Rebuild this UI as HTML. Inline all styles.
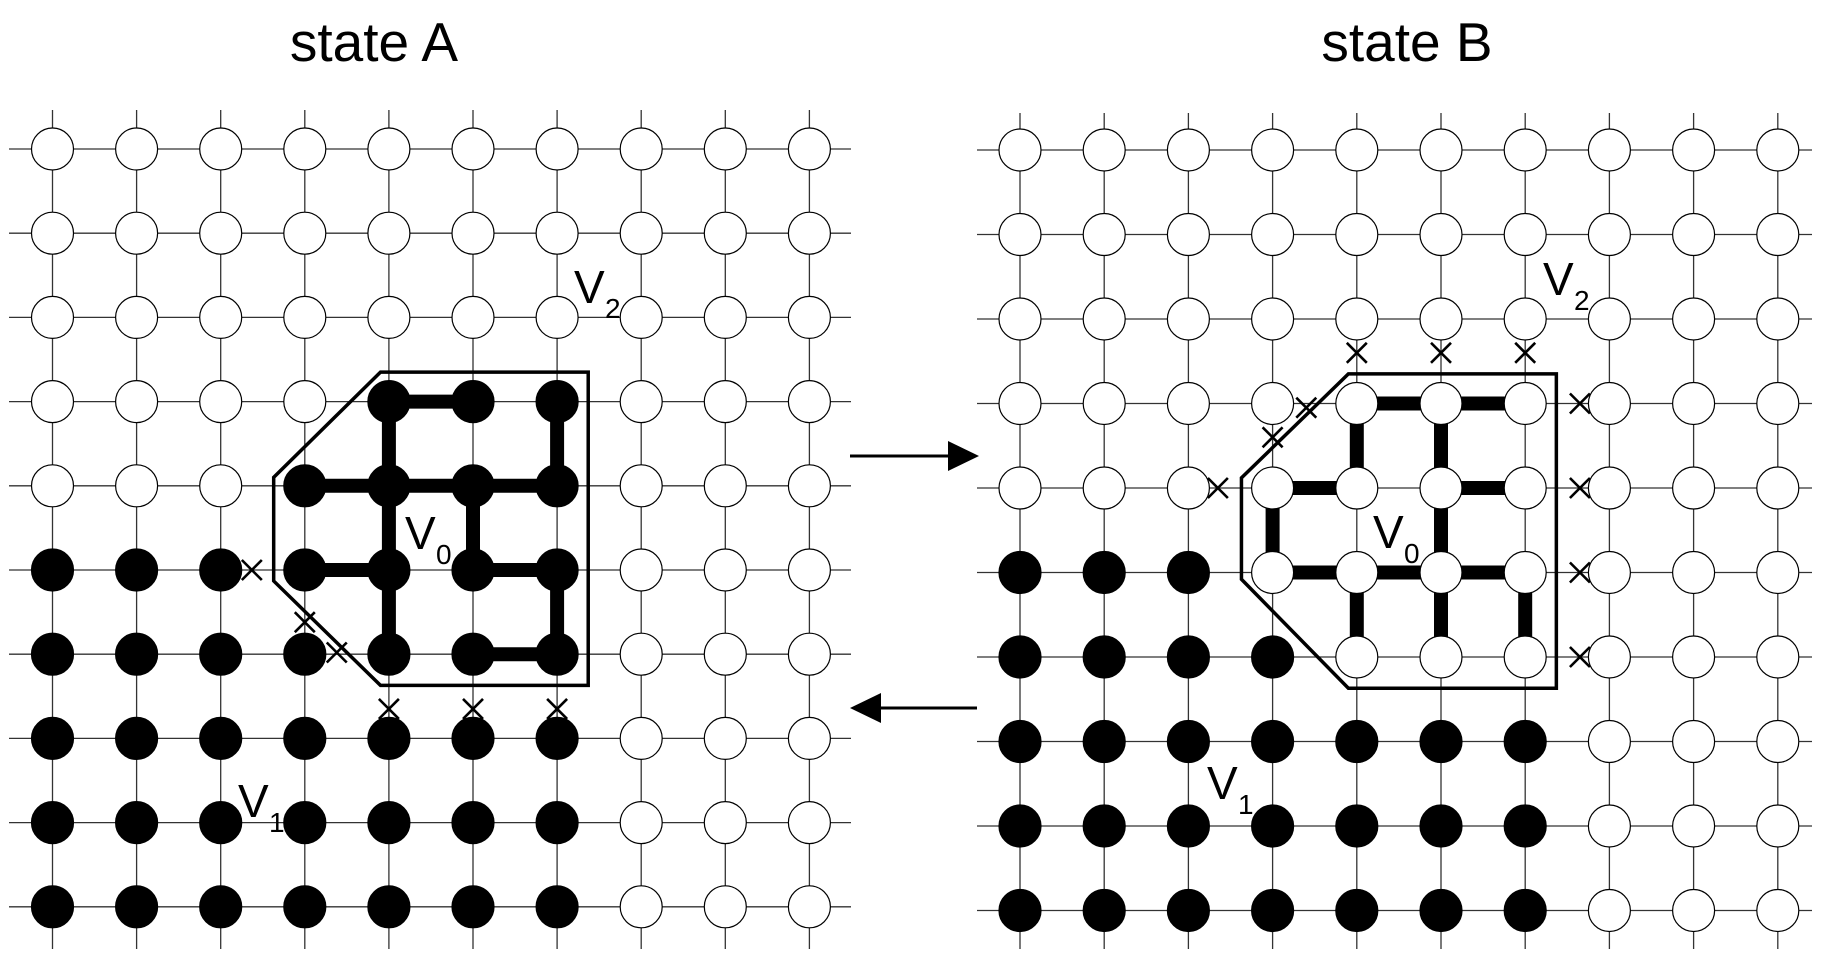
<!DOCTYPE html>
<html><head><meta charset="utf-8"><style>
html,body{margin:0;padding:0;background:#fff;}
svg{display:block;font-family:"Liberation Sans",Arial,sans-serif;}
</style></head><body>
<svg id="chart" width="1832" height="960" viewBox="0 0 1832 960" xmlns="http://www.w3.org/2000/svg">
<g id="panelA"></g>
<g id="panelB"></g>
<g>
<line x1="850" y1="456" x2="950" y2="456" stroke="#000" stroke-width="3"/>
<polygon points="979,456 948,441 948,471" fill="#000"/>
<line x1="977" y1="708" x2="880" y2="708" stroke="#000" stroke-width="3"/>
<polygon points="850,708 881,693 881,723" fill="#000"/>
</g>
</svg>
<script>
// Data: node states (1=filled) per row, thick edges [r1,c1,r2,c2], crosses
const filledA = [
 "0000000000","0000000000","0000000000","0000111000","0001111000",
 "1111111000","1111111000","1111111000","1111111000","1111111000"];
const filledB = [
 "0000000000","0000000000","0000000000","0000000000","0000000000",
 "1110000000","1111000000","1111111000","1111111000","1111111000"];
const edgesA = [[3,4,3,5],[3,4,6,4],[4,3,4,6],[3,6,4,6],[4,5,5,5],[5,3,5,4],[5,5,5,6],[5,6,6,6],[6,5,6,6]];
const edgesB = [[3,4,3,6],[3,4,4,4],[3,5,4,5],[4,3,4,4],[4,5,4,6],[4,3,5,3],[4,5,5,5],[5,3,5,6],[5,4,6,4],[5,5,6,5],[5,6,6,6]];
// crosses in grid units (row, col, fractional)
const crossesA = [[5,2.37],[5.62,3.0],[5.98,3.38],[6.65,4],[6.65,5],[6.65,6]];
const crossesB = [[2.4,4],[2.4,5],[2.4,6],[3.05,3.4],[3.4,3.0],[4,2.35],[3,6.65],[4,6.65],[5,6.65],[6,6.65]];
const polyA = [[2.65,3.9],[2.65,6.37],[6.37,6.37],[6.37,3.9],[5.13,2.63],[3.9,2.63]];
const polyB = [[2.65,3.9],[2.65,6.37],[6.37,6.37],[6.37,3.9],[5.08,2.63],[3.88,2.63]];

const NS="http://www.w3.org/2000/svg";
function mk(tag, attrs, parent){const e=document.createElementNS(NS,tag);for(const k in attrs)e.setAttribute(k,attrs[k]);parent.appendChild(e);return e;}

function drawPanel(g, cfg){
  const X=c=>cfg.x0+cfg.dx*c, Y=r=>cfg.y0+cfg.dy*r;
  const t=mk('text',{x:cfg.titleX,y:61,'font-size':55,'text-anchor':'middle',fill:'#000'},g);
  t.textContent=cfg.title;
  
  
  const grid=mk('g',{stroke:'#333','stroke-width':1.3},g);
  
  
  for(let i=0;i<10;i++){
    mk('line',{x1:cfg.hx1,x2:cfg.hx2,y1:Y(i),y2:Y(i)},grid);
    mk('line',{x1:X(i),x2:X(i),y1:cfg.vy1,y2:949},grid);
  }
  const pts=cfg.poly.map(p=>X(p[1])+','+Y(p[0])).join(' ');
  const pg=mk('polygon',{points:pts,fill:'none',stroke:'#000','stroke-width':3.5},g);
  
  
  const eg=mk('g',{stroke:'#000','stroke-width':14},g);
  
  
  cfg.edges.forEach(e=>{mk('line',{x1:X(e[1]),y1:Y(e[0]),x2:X(e[3]),y2:Y(e[2])},eg);});
  const ng=mk('g',{},g);
  
  
  cfg.filled.forEach((row,r)=>{for(let c=0;c<10;c++){
    const f=row[c]==='1';
    const n=mk('ellipse',{cx:X(c),cy:Y(r),rx:21,ry:21,fill:f?'#000':'#fff',stroke:'#000','stroke-width':1.2},ng);
    
    
  }});
  const cg=mk('g',{stroke:'#000','stroke-width':2.6},g);
  
  
  cfg.crosses.forEach(p=>{const x=X(p[1]),y=Y(p[0]),h=10;
    mk('line',{x1:x-h,y1:y-h,x2:x+h,y2:y+h},cg);mk('line',{x1:x-h,y1:y+h,x2:x+h,y2:y-h},cg);});
  cfg.labels.forEach(l=>{
    const tx=mk('text',{x:l[0],y:l[1],'font-size':46,fill:'#000'},g);
    tx.textContent='V';
    
    
    const s=mk('text',{x:l[0]+31,y:l[1]+15,'font-size':28,fill:'#000'},g);
    s.textContent=l[2];
    
    
  });
}
drawPanel(document.getElementById('panelA'),{id:'state-a',title:'state A',titleX:374,x0:52.5,dx:84.1,y0:149,dy:84.2,hx1:9,hx2:851,vy1:110,
  filled:filledA,edges:edgesA,crosses:crossesA,poly:polyA,labels:[[574,303,'2'],[405,549,'0'],[238,817,'1']]});
drawPanel(document.getElementById('panelB'),{id:'state-b',title:'state B',titleX:1407,x0:1020,dx:84.2,y0:150,dy:84.5,hx1:977,hx2:1812,vy1:113,
  filled:filledB,edges:edgesB,crosses:crossesB,poly:polyB,labels:[[1543,295,'2'],[1373,548,'0'],[1207,799,'1']]});
</script>
</body></html>
